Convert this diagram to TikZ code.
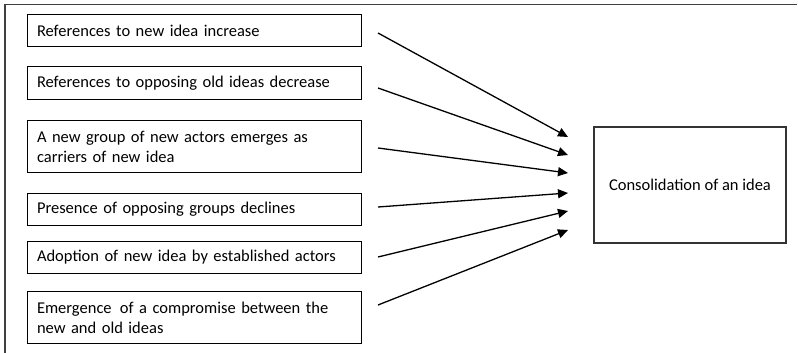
\documentclass[tikz,border=0pt]{standalone}
\usepackage{fontspec}
\setmainfont{Carlito}
\usetikzlibrary{arrows.meta}
\begin{document}
\begin{tikzpicture}[x=1pt,y=-1pt,
  cause/.style={draw=black,line width=1pt,minimum width=334pt,text width=314pt,align=left,inner sep=0pt,font=\fontsize{16.5}{20}\selectfont},
  target/.style={draw=black!80,line width=1.2pt,minimum width=192pt,minimum height=116pt,inner sep=0pt,font=\fontsize{16.5}{20}\selectfont},
  link/.style={line width=1.3pt,-{Triangle[length=10pt,width=9pt]}}]
\useasboundingbox (0,0) rectangle (798,353);
\draw[line width=1.6pt,black!75] (5,353) -- (5,4.5) -- (797,4.5);
\node[cause,minimum height=32pt] (b1) at (194,31) {References to new idea increase};
\node[cause,minimum height=32pt] (b2) at (194,83) {References to opposing old ideas decrease};
\node[cause,minimum height=52pt] (b3) at (194,146.5) {A new group of new actors emerges as\\carriers of new idea};
\node[cause,minimum height=32pt] (b4) at (194,209) {Presence of opposing groups declines};
\node[cause,minimum height=32pt] (b5) at (194,257.5) {Adoption of new idea by established actors};
\node[cause,minimum height=52pt] (b6) at (194,317.5) {Emergence \,of a compromise between the\\new and old ideas};
\node[target] (t) at (690,185) {Consolidation of an idea};
\coordinate (s1) at (378,33);  \coordinate (e1) at (568,137);
\coordinate (s2) at (378,88);  \coordinate (e2) at (568,155);
\coordinate (s3) at (378,148); \coordinate (e3) at (568,173);
\coordinate (s4) at (378,207); \coordinate (e4) at (568,193);
\coordinate (s5) at (378,257); \coordinate (e5) at (568,211);
\coordinate (s6) at (378,305); \coordinate (e6) at (568,230);
\foreach \i in {1,...,6} \draw[link] (s\i) -- (e\i);
\end{tikzpicture}
\end{document}
